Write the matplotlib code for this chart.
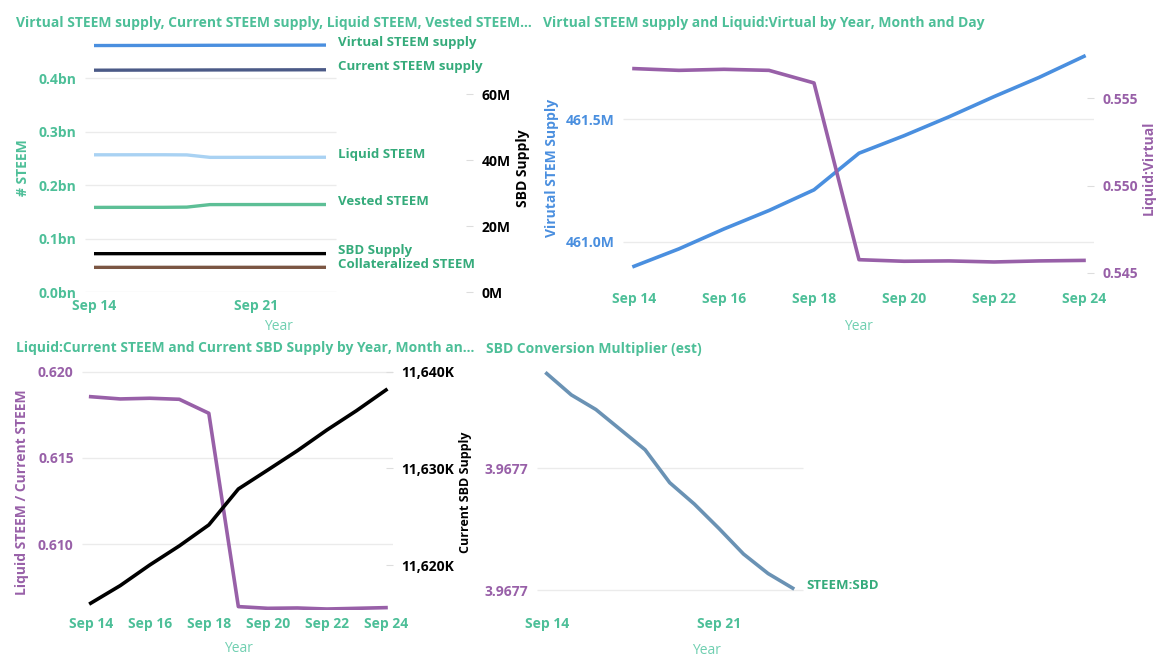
import datetime as dt

import matplotlib
matplotlib.use('Agg')
import matplotlib.pyplot as plt
import matplotlib.dates as mdates
from matplotlib.ticker import FixedLocator, FuncFormatter

W, H = 1162, 663

days = ['2019-09-14', '2019-09-15', '2019-09-16', '2019-09-17', '2019-09-18', '2019-09-19',
        '2019-09-20', '2019-09-21', '2019-09-22', '2019-09-23', '2019-09-24']

# millions of STEEM
virtual_supply = [460.901, 460.972, 461.053, 461.128, 461.212, 461.361, 461.432, 461.509, 461.591, 461.669, 461.755]
current_supply = [414.79, 414.88, 414.97, 415.02, 415.11, 415.23, 415.30, 415.37, 415.44, 415.53, 415.60]
liquid_steem = [256.57, 256.57, 256.64, 256.65, 256.37, 251.79, 251.79, 251.84, 251.86, 251.93, 251.99]
vested_steem = [158.22, 158.31, 158.33, 158.37, 158.74, 163.44, 163.51, 163.53, 163.58, 163.60, 163.61]
collateral_steem = [46.090, 46.097, 46.105, 46.113, 46.122, 46.136, 46.144, 46.152, 46.160, 46.168, 46.177]
# thousands of SBD
sbd_supply = [11616.08, 11617.90, 11620.03, 11622.00, 11624.17, 11627.88, 11629.85, 11631.84, 11633.98, 11635.97, 11638.11]

liquid_virtual = [0.55668, 0.55658, 0.55664, 0.55658, 0.55586, 0.54576, 0.54567, 0.54569, 0.54563, 0.54569, 0.54572]
liquid_current = [0.61855, 0.61842, 0.61846, 0.61840, 0.61759, 0.60639, 0.60629, 0.60631, 0.60625, 0.60629, 0.60633]
steem_sbd = [3.9677355, 3.9677320, 3.9677296, 3.9677263, 3.9677230, 3.9677176, 3.9677141,
             3.9677101, 3.9677059, 3.9677027, 3.9677003]

GREEN = '#4DBF98'
LABEL_GREEN = '#35AB7B'
YEAR_GREEN = '#6FCFB0'
BLUE = '#4A8FDF'
NAVY = '#4B5A87'
LIGHT_BLUE = '#A9D2F3'
VEST_GREEN = '#5DBF96'
BROWN = '#7B5643'
PURPLE = '#9860A8'
STEEL = '#6A92B4'
GRID = '#EBEBEB'

FONT = ['Open Sans', 'DejaVu Sans']
NARROW = ['Liberation Sans Narrow', 'Open Sans', 'DejaVu Sans']
plt.rcParams['font.family'] = FONT

x = mdates.date2num([dt.datetime.strptime(d, '%Y-%m-%d') for d in days])
x0 = x[0]

fig = plt.figure(figsize=(W / 100, H / 100), dpi=100)


def px_box(l, t, r, b):
    return [l / W, 1 - b / H, (r - l) / W, (b - t) / H]


def ftext(px, py, s, **kw):
    fig.text(px / W, 1 - py / H, s, va='center', **kw)


def style(ax, first_px, left_px, right_px, px_day, step):
    ax.set_xlim(x0 - (first_px - left_px) / px_day, x0 + (right_px - first_px) / px_day)
    ax.xaxis.set_major_locator(FixedLocator(x[::step]))
    ax.xaxis.set_major_formatter(FuncFormatter(lambda v, _: mdates.num2date(v).strftime('%b %d')))
    for s in ax.spines.values():
        s.set_visible(False)
    ax.tick_params(axis='x', length=0, pad=5, labelcolor=GREEN, labelsize=10)
    ax.tick_params(axis='y', length=0, pad=6, labelsize=10)
    for lab in ax.get_xticklabels() + ax.get_yticklabels():
        lab.set_fontweight('bold')


def grid(ax, ys, x_end_px, first_px, left_px, px_day):
    ax.hlines(ys, x0 - (first_px - left_px) / px_day, x0 + (x_end_px - first_px) / px_day,
              color=GRID, lw=1, zorder=0)


def right_axis(ax, color):
    ax2 = ax.twinx()
    for s in ax2.spines.values():
        s.set_visible(False)
    ax2.tick_params(axis='y', length=5, direction='in', color='#DDDDDD', pad=6,
                    labelsize=10, labelcolor=color)
    return ax2


# ---- top left ----
ax = fig.add_axes(px_box(85, 38, 473, 292))
lines = [(virtual_supply, BLUE, 'Virtual STEEM supply'),
         (current_supply, NAVY, 'Current STEEM supply'),
         (liquid_steem, LIGHT_BLUE, 'Liquid STEEM'),
         (vested_steem, VEST_GREEN, 'Vested STEEM'),
         (collateral_steem, BROWN, 'Collateralized STEEM')]
for vals, col, name in lines:
    ax.plot(x, vals, color=col, lw=2.4, solid_capstyle='butt')
    ax.annotate(name, xy=(x[-1], vals[-1]), xytext=(9, 2), textcoords='offset points',
                va='center', ha='left', color=LABEL_GREEN, fontsize=9.5, fontweight='bold', family=NARROW)
ax.set_ylim(0, 475)
ax.set_yticks([0, 100, 200, 300, 400])
ax.yaxis.set_major_formatter(FuncFormatter(lambda v, _: '{:.1f}bn'.format(v / 1000)))
style(ax, 94, 85, 473, 23.2, 7)
ax.tick_params(axis='y', labelcolor=GREEN)
grid(ax, [0, 100, 200, 300, 400], 336, 94, 85, 23.2)
ax2 = right_axis(ax, 'black')
ax2.plot(x, [v / 1000 for v in sbd_supply], color='black', lw=2.4, solid_capstyle='butt')
ax2.annotate('SBD Supply', xy=(x[-1], sbd_supply[-1] / 1000), xytext=(9, 2), textcoords='offset points',
             va='center', ha='left', color=LABEL_GREEN, fontsize=9.5, fontweight='bold', family=NARROW)
ax2.set_ylim(0, 77)
ax2.set_yticks([0, 20, 40, 60])
ax2.yaxis.set_major_formatter(FuncFormatter(lambda v, _: '{:.0f}M'.format(v)))
for lab in ax2.get_yticklabels():
    lab.set_fontweight('bold')

ftext(16, 23, 'Virtual STEEM supply, Current STEEM supply, Liquid STEEM, Vested STEEM...',
      color=GREEN, fontsize=10, fontweight='bold')
ftext(23, 168, '# STEEM', color=GREEN, fontsize=10, fontweight='bold', rotation=90, ha='center')
ftext(523, 168, 'SBD Supply', color='black', fontsize=10, fontweight='bold', rotation=90, ha='center')
ftext(279, 326, 'Year', color=YEAR_GREEN, fontsize=10, ha='center')

# ---- top right ----
ax = fig.add_axes(px_box(623, 45, 1094, 285))
ax.plot(x, virtual_supply, color=BLUE, lw=2.6)
ax.set_ylim(460.825, 461.801)
ax.set_yticks([461.0, 461.5])
ax.yaxis.set_major_formatter(FuncFormatter(lambda v, _: '{:.1f}M'.format(v)))
style(ax, 634, 623, 1094, 45, 2)
ax.tick_params(axis='y', labelcolor=BLUE)
grid(ax, [461.0, 461.5], 1094, 634, 623, 45)
ax2 = right_axis(ax, PURPLE)
ax2.plot(x, liquid_virtual, color=PURPLE, lw=2.6)
ax2.set_ylim(0.544314, 0.558029)
ax2.set_yticks([0.545, 0.550, 0.555])
ax2.yaxis.set_major_formatter(FuncFormatter(lambda v, _: '{:.3f}'.format(v)))
for lab in ax2.get_yticklabels():
    lab.set_fontweight('bold')

ftext(543, 23, 'Virtual STEEM supply and Liquid:Virtual by Year, Month and Day',
      color=GREEN, fontsize=10, fontweight='bold')
ftext(552, 168, 'Virutal STEM Supply', color=BLUE, fontsize=10, fontweight='bold', rotation=90, ha='center')
ftext(1149, 168, 'Liquid:Virtual', color=PURPLE, fontsize=10, fontweight='bold', rotation=90, ha='center')
ftext(859, 326, 'Year', color=YEAR_GREEN, fontsize=10, ha='center')

# ---- bottom left ----
ax = fig.add_axes(px_box(82, 362, 393, 610))
ax.plot(x, liquid_current, color=PURPLE, lw=2.6)
ax.set_ylim(0.606193, 0.62056)
ax.set_yticks([0.610, 0.615, 0.620])
ax.yaxis.set_major_formatter(FuncFormatter(lambda v, _: '{:.3f}'.format(v)))
style(ax, 90.7, 82, 393, 29.53, 2)
ax.tick_params(axis='y', labelcolor=PURPLE)
grid(ax, [0.610, 0.615, 0.620], 393, 90.7, 82, 29.53)
ax2 = right_axis(ax, 'black')
ax2.plot(x, sbd_supply, color='black', lw=2.6)
ax2.set_ylim(11615.38, 11641.0)
ax2.set_yticks([11620, 11630, 11640])
ax2.yaxis.set_major_formatter(FuncFormatter(lambda v, _: '{:,.0f}K'.format(v)))
for lab in ax2.get_yticklabels():
    lab.set_fontweight('bold')

ftext(16, 348, 'Liquid:Current STEEM and Current SBD Supply by Year, Month an...',
      color=GREEN, fontsize=10, fontweight='bold')
ftext(22, 492, 'Liquid STEEM / Current STEEM', color=PURPLE, fontsize=10, fontweight='bold',
      rotation=90, ha='center')
ftext(465, 492, 'Current SBD Supply', color='black', fontsize=9, fontweight='bold', rotation=90, ha='center')
ftext(238, 649, 'Year', color=YEAR_GREEN, fontsize=10, ha='center')

# ---- bottom right ----
ax = fig.add_axes(px_box(537, 365, 877, 610))
ax.plot(x, steem_sbd, color=STEEL, lw=2.6)
ax.annotate('STEEM:SBD', xy=(x[-1], steem_sbd[-1]), xytext=(10, 2), textcoords='offset points',
            va='center', ha='left', color=LABEL_GREEN, fontsize=9.5, fontweight='bold', family=NARROW)
ax.set_ylim(3.96769672, 3.9677369)
ax.set_yticks([3.96770, 3.96772])
ax.yaxis.set_major_formatter(FuncFormatter(lambda v, _: '{:.4f}'.format(v)))
style(ax, 546.7, 537, 877, 24.6, 7)
ax.tick_params(axis='y', labelcolor=PURPLE)
grid(ax, [3.96770, 3.96772], 803, 546.7, 537, 24.6)

ftext(486, 349, 'SBD Conversion Multiplier (est)', color=GREEN, fontsize=10, fontweight='bold')
ftext(707, 650, 'Year', color=YEAR_GREEN, fontsize=10, ha='center')

fig.savefig('out.png', dpi=100)
